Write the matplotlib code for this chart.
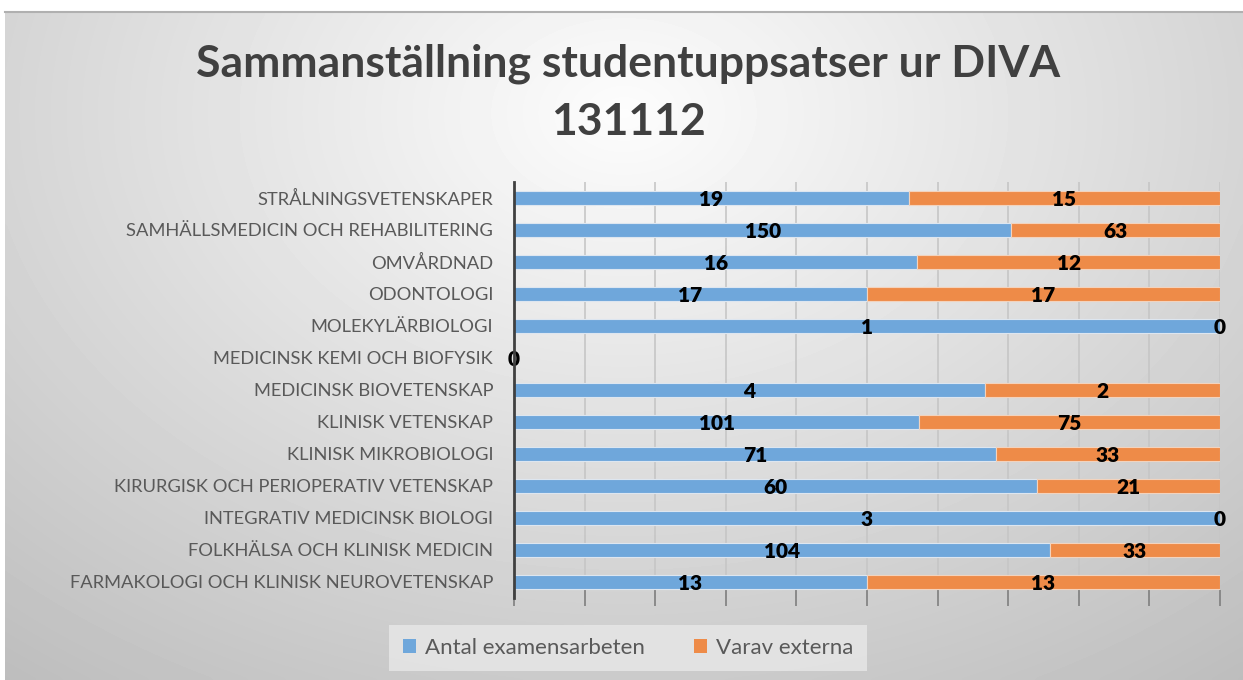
import numpy as np
import matplotlib.pyplot as plt
from matplotlib.patches import Patch

# ---------------- DATA ----------------
categories = [
    "STRÅLNINGSVETENSKAPER",
    "SAMHÄLLSMEDICIN OCH REHABILITERING",
    "OMVÅRDNAD",
    "ODONTOLOGI",
    "MOLEKYLÄRBIOLOGI",
    "MEDICINSK KEMI OCH BIOFYSIK",
    "MEDICINSK BIOVETENSKAP",
    "KLINISK VETENSKAP",
    "KLINISK MIKROBIOLOGI",
    "KIRURGISK OCH PERIOPERATIV VETENSKAP",
    "INTEGRATIV MEDICINSK BIOLOGI",
    "FOLKHÄLSA OCH KLINISK MEDICIN",
    "FARMAKOLOGI OCH KLINISK NEUROVETENSKAP",
]
antal = [19, 150, 16, 17, 1, 0, 4, 101, 71, 60, 3, 104, 13]
externa = [15, 63, 12, 17, 0, 0, 2, 75, 33, 21, 0, 33, 13]
series_names = ["Antal examensarbeten", "Varav externa"]

title = "Sammanställning studentuppsatser ur DIVA\n131112"

# ---------------- STYLE ----------------
BLUE = "#6fa7db"
ORANGE = "#ee8b48"
plt.rcParams["font.family"] = ["Lato", "DejaVu Sans"]

fig = plt.figure(figsize=(12.43, 6.8), dpi=100)

# background gradient (light centre, grey edges)
bg = fig.add_axes([5 / 1243, 0, 1 - 5 / 1243, 1 - 12 / 680])
yy, xx = np.mgrid[0:1:200j, 0:1:400j]
r = np.sqrt(((xx - 0.5) / 0.75) ** 2 + ((yy - 0.15) / 1.0) ** 2)
img = np.clip(0.99 - 0.23 * r, 0, 1)
bg.imshow(img, cmap="gray", vmin=0, vmax=1, aspect="auto",
          extent=[0, 1, 1, 0], interpolation="bicubic")
bg.set_axis_off()
fig.add_artist(plt.Line2D([5 / 1243, 1], [1 - 12 / 680] * 2,
                          color="#b0b0b0", lw=1.5))

# ---------------- CHART ----------------
ax = fig.add_axes([514 / 1243, 1 - 598 / 680, 706 / 1243, 416 / 680])
ax.patch.set_alpha(0)

a = np.array(antal, dtype=float)
e = np.array(externa, dtype=float)
tot = a + e
fa = np.divide(a, tot, out=np.zeros_like(a), where=tot > 0)
fe = np.divide(e, tot, out=np.zeros_like(e), where=tot > 0)

y = np.arange(len(categories))[::-1]
h = 0.44
ax.barh(y, fa, height=h, color=BLUE, edgecolor="#dde6f0", linewidth=0.8, zorder=3)
ax.barh(y, fe, left=fa, height=h, color=ORANGE, edgecolor="#f3d3bd", linewidth=0.8, zorder=3)

for i, (yi, va, ve, pa, pe) in enumerate(zip(y, antal, externa, fa, fe)):
    ax.text(pa / 2, yi - 0.05, str(va), ha="center", va="center",
            fontsize=15, fontweight="heavy", color="black", zorder=5)
    if tot[i] > 0:
        ax.text(pa + pe / 2, yi - 0.05, str(ve), ha="center", va="center",
                fontsize=15, fontweight="heavy", color="black", zorder=5)

ax.set_xlim(0, 1)
ax.set_ylim(-0.5, len(categories) - 0.5)
ax.set_yticks(y)
ax.set_yticklabels(categories, fontsize=13.2, color="#595959")
ax.set_xticks(np.linspace(0, 1, 11))
ax.set_xticklabels([])
ax.tick_params(axis="y", length=0, pad=15)
ax.tick_params(axis="x", direction="inout", length=12, color="#7f7f7f", width=1.2)
ax.grid(axis="x", color="#c6c6c6", linewidth=1.2, zorder=0)
for s in ["top", "right", "bottom"]:
    ax.spines[s].set_visible(False)
ax.spines["left"].set_color("#404040")
ax.spines["left"].set_linewidth(2)
ax.spines["left"].set_zorder(6)

fig.text(628 / 1243, 1 - 93 / 680, title, ha="center", va="center",
         fontsize=32, fontweight="bold", color="#404040", linespacing=1.55)

handles = [Patch(facecolor=BLUE, edgecolor="none"), Patch(facecolor=ORANGE, edgecolor="none")]
leg = fig.legend(handles, series_names, loc="center", ncol=2,
                 bbox_to_anchor=(628 / 1243, 1 - 648 / 680), fontsize=16,
                 frameon=True, fancybox=False, handlelength=0.6, handleheight=0.6,
                 columnspacing=2.2, borderpad=0.6, handletextpad=0.4)
leg.get_frame().set_facecolor("#e8e8e8")
leg.get_frame().set_edgecolor("none")
for t in leg.get_texts():
    t.set_color("#595959")

fig.savefig("out.png", dpi=100)
